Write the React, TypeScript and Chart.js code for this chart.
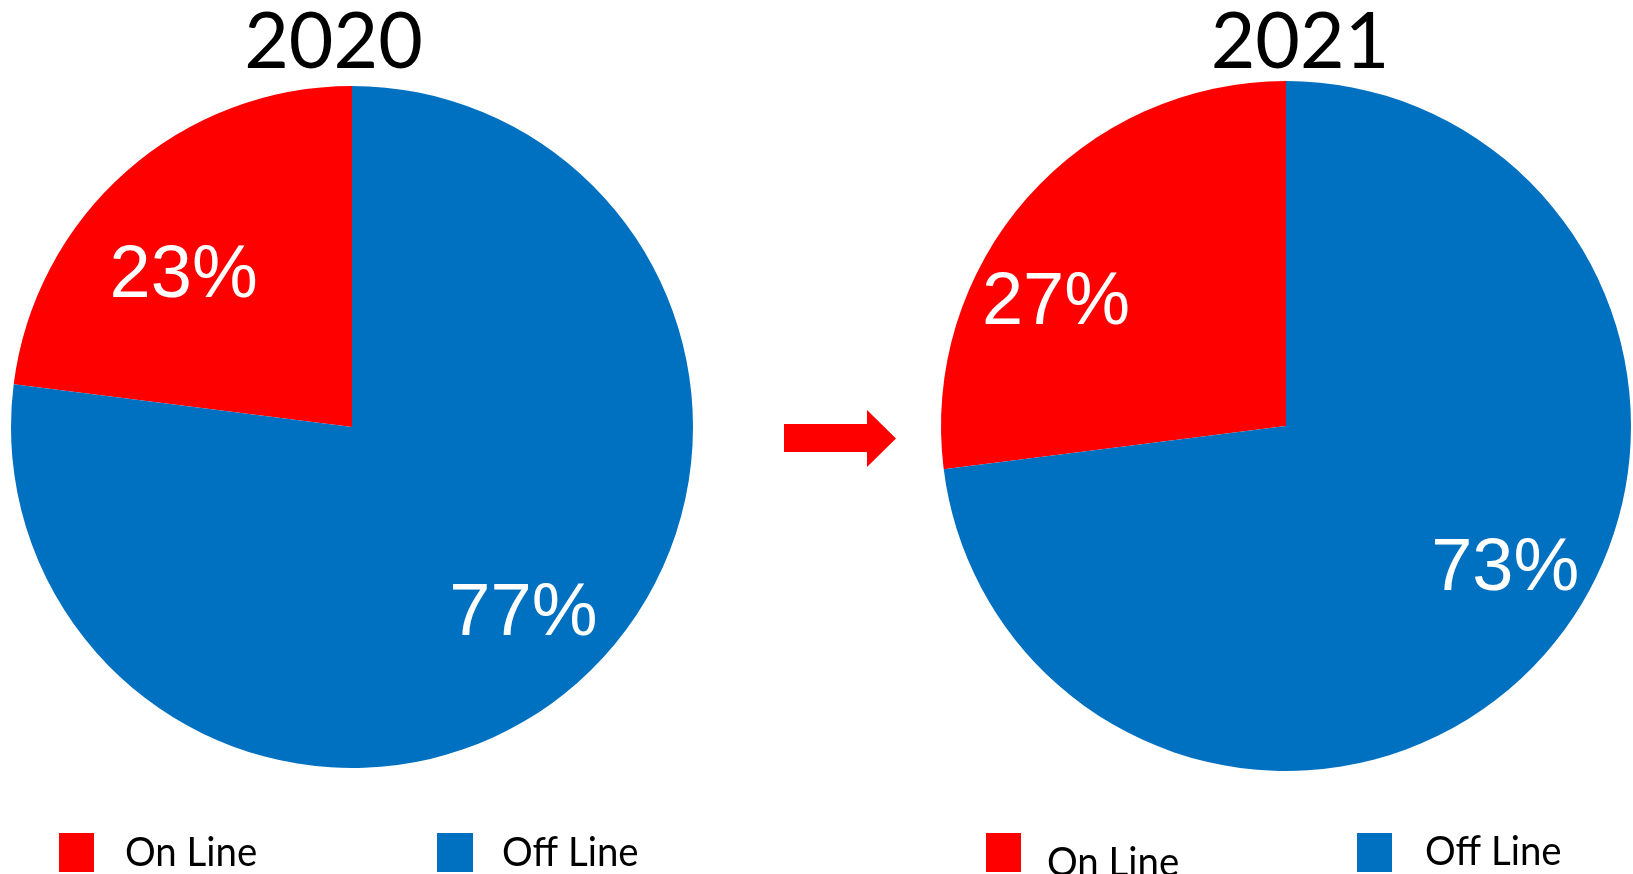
import React, { useEffect, useRef } from "react";
import { Chart, ArcElement, PieController } from "chart.js";

Chart.register(ArcElement, PieController);

// Share of sales channels per year, in percent
const categories = ["On Line", "Off Line"];
const years = ["2020", "2021"];
const share2020 = [23, 77];
const share2021 = [27, 73];
const sliceColors = ["#FF0000", "#0070C0"];

type LegendSpot = { box: [number, number, number, number]; textX: number; baseline: number };

type Panel = {
  year: string;
  values: number[];
  canvasLeft: number;
  canvasWidth: number;
  padding: { left: number; top: number; right: number; bottom: number };
  titleX: number;
  labelShift: number[]; // degrees added to each slice's mid angle
  labelRadius: number[]; // fraction of the outer radius
  legend: LegendSpot[];
  arrow: boolean;
};

const PAGE_W = 1633;
const PAGE_H = 874;

const panels: Panel[] = [
  {
    year: years[0],
    values: share2020,
    canvasLeft: 0,
    canvasWidth: 920,
    padding: { left: 11, top: 86, right: 227, bottom: 106 },
    titleX: 333.5,
    labelShift: [-5.7, -1.9],
    labelRadius: [0.674, 0.733],
    legend: [
      { box: [59, 833, 35, 39], textX: 125, baseline: 866 },
      { box: [437, 833, 36, 39], textX: 502, baseline: 866 },
    ],
    arrow: true,
  },
  {
    year: years[1],
    values: share2021,
    canvasLeft: 920,
    canvasWidth: 713,
    padding: { left: 21, top: 81, right: 2, bottom: 103 },
    titleX: 380,
    labelShift: [-12.3, -9.3],
    labelRadius: [0.763, 0.75],
    legend: [
      { box: [66, 833, 35, 39], textX: 127, baseline: 876 },
      { box: [437, 833, 35, 39], textX: 505, baseline: 865 },
    ],
    arrow: false,
  },
];

function makeOverlay(panel: Panel) {
  return {
    id: "overlay",
    afterDraw(chart: Chart) {
      const ctx = chart.ctx;
      ctx.save();

      // year heading
      ctx.fillStyle = "#000000";
      ctx.font = "77px Lato";
      ctx.textAlign = "center";
      ctx.textBaseline = "alphabetic";
      ctx.fillText(panel.year, panel.titleX, 68);

      // percentage inside each slice
      const meta = chart.getDatasetMeta(0);
      const size = 74;
      ctx.font = `${size}px "Liberation Sans"`;
      ctx.fillStyle = "#FFFFFF";
      meta.data.forEach((el: any, i: number) => {
        const { x, y, startAngle, endAngle, outerRadius } = el.getProps(
          ["x", "y", "startAngle", "endAngle", "outerRadius"],
          true
        );
        const mid = (startAngle + endAngle) / 2 + (panel.labelShift[i] * Math.PI) / 180;
        const r = outerRadius * panel.labelRadius[i];
        const cx = x + Math.cos(mid) * r;
        const cy = y + Math.sin(mid) * r;
        ctx.fillText(`${panel.values[i]}%`, cx, cy + size * 0.716 * 0.5);
      });

      // legend
      ctx.textAlign = "left";
      ctx.font = "40px Lato";
      panel.legend.forEach((spot, i) => {
        const [bx, by, bw, bh] = spot.box;
        ctx.fillStyle = sliceColors[i];
        ctx.fillRect(bx, by, bw, bh);
        ctx.fillStyle = "#000000";
        ctx.save();
        ctx.translate(spot.textX, spot.baseline);
        ctx.scale(0.96, 1);
        ctx.fillText(categories[i], 0, 0);
        ctx.restore();
      });

      // arrow pointing to the next year
      if (panel.arrow) {
        ctx.fillStyle = "#FF0000";
        ctx.beginPath();
        ctx.moveTo(784, 424);
        ctx.lineTo(867, 424);
        ctx.lineTo(867, 410);
        ctx.lineTo(896, 438.5);
        ctx.lineTo(867, 467);
        ctx.lineTo(867, 452);
        ctx.lineTo(784, 452);
        ctx.closePath();
        ctx.fill();
      }

      ctx.restore();
    },
  };
}

function PiePanel({ panel }: { panel: Panel }) {
  const ref = useRef<HTMLCanvasElement | null>(null);

  useEffect(() => {
    const canvas = ref.current;
    if (!canvas) return;
    const chart = new Chart(canvas, {
      type: "pie",
      data: {
        labels: categories,
        datasets: [
          {
            data: panel.values,
            backgroundColor: sliceColors,
            borderWidth: 0,
            hoverBorderWidth: 0,
            offset: 0,
            hoverOffset: 0,
          },
        ],
      },
      options: {
        responsive: false,
        maintainAspectRatio: false,
        animation: false,
        devicePixelRatio: 1,
        events: [],
        rotation: -panel.values[0] * 3.6,
        layout: { padding: panel.padding },
        plugins: {
          legend: { display: false },
          title: { display: false },
          tooltip: { enabled: false },
        },
      },
      plugins: [makeOverlay(panel)],
    });
    return () => chart.destroy();
  }, [panel]);

  return (
    <canvas
      ref={ref}
      width={panel.canvasWidth}
      height={PAGE_H}
      style={{
        position: "absolute",
        left: panel.canvasLeft,
        top: 0,
        width: panel.canvasWidth,
        height: PAGE_H,
      }}
    />
  );
}

export default function App() {
  return (
    <div
      style={{
        position: "fixed",
        left: 0,
        top: 0,
        width: PAGE_W,
        height: PAGE_H,
        background: "#FFFFFF",
        overflow: "hidden",
      }}
    >
      {panels.map((p) => (
        <PiePanel key={p.year} panel={p} />
      ))}
    </div>
  );
}
